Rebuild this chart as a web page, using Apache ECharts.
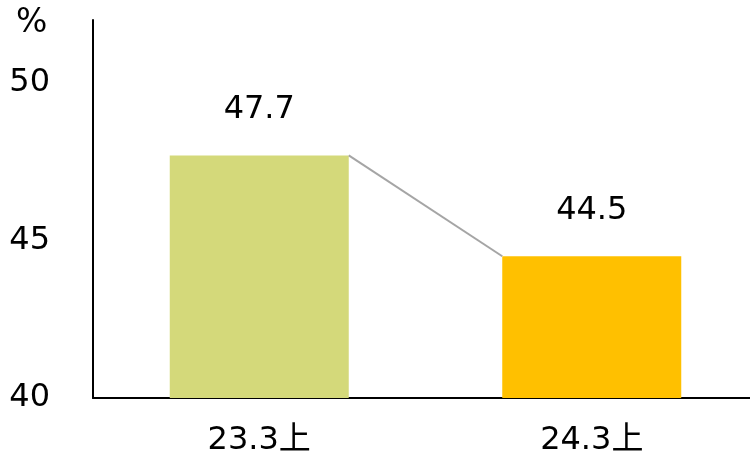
<!DOCTYPE html>
<html>
<head>
<meta charset="utf-8">
<script src="https://cdn.jsdelivr.net/npm/echarts@6/dist/echarts.min.js"></script>
<style>html,body{margin:0;padding:0;background:#fff;}#c{width:750px;height:455px;}</style>
</head>
<body>
<div id="c"></div>
<script>
const categories = ['23.3上', '24.3上'];
const values = [47.7, 44.5];
const barColors = ['#D4D97A', '#FFC000'];
const yTicks = [40, 45, 50];
const unitLabel = '%';

const FONT = '"DejaVu Sans", "Noto Sans CJK JP", sans-serif';
const FS = 32;
const BAR_W = 179;

const chart = echarts.init(document.getElementById('c'), null, {renderer: 'canvas'});
chart.setOption({
  animation: false,
  backgroundColor: '#fff',
  grid: {left: 93, width: 665, top: 20, bottom: 57, containLabel: false, outerBoundsMode: 'none'},
  graphic: [{
    type: 'text', left: 16, top: 7,
    style: {text: unitLabel, font: '33px ' + FONT, fill: '#000'}
  }],
  xAxis: {
    type: 'category',
    data: categories,
    axisLine: {show: true, lineStyle: {color: '#000', width: 2}},
    axisTick: {show: false},
    axisLabel: {color: '#000', fontSize: FS, fontFamily: FONT, margin: 27}
  },
  yAxis: {
    type: 'value',
    min: yTicks[0], max: 52, interval: 5,
    axisLine: {show: true, lineStyle: {color: '#000', width: 2}},
    axisTick: {show: false},
    splitLine: {show: false},
    axisLabel: {color: '#000', fontSize: FS, fontFamily: FONT, margin: 43,
      formatter: v => (yTicks.indexOf(v) >= 0 ? String(v) : '')}
  },
  series: [{
    type: 'bar',
    barWidth: BAR_W,
    data: values.map((v, i) => ({value: v, itemStyle: {color: barColors[i]}})),
    label: {show: true, position: 'top', distance: 30, color: '#000',
      fontSize: FS, fontFamily: FONT}
  }, {
    type: 'custom',
    data: [[0, values[0], 1, values[1]]],
    z: 3,
    renderItem: function (params, api) {
      const p1 = api.coord([api.value(0), api.value(1)]);
      const p2 = api.coord([api.value(2), api.value(3)]);
      return {
        type: 'line',
        shape: {x1: p1[0] + BAR_W / 2, y1: p1[1], x2: p2[0] - BAR_W / 2, y2: p2[1]},
        style: {stroke: '#A5A5A5', lineWidth: 2}
      };
    }
  }]
});
</script>
</body>
</html>
